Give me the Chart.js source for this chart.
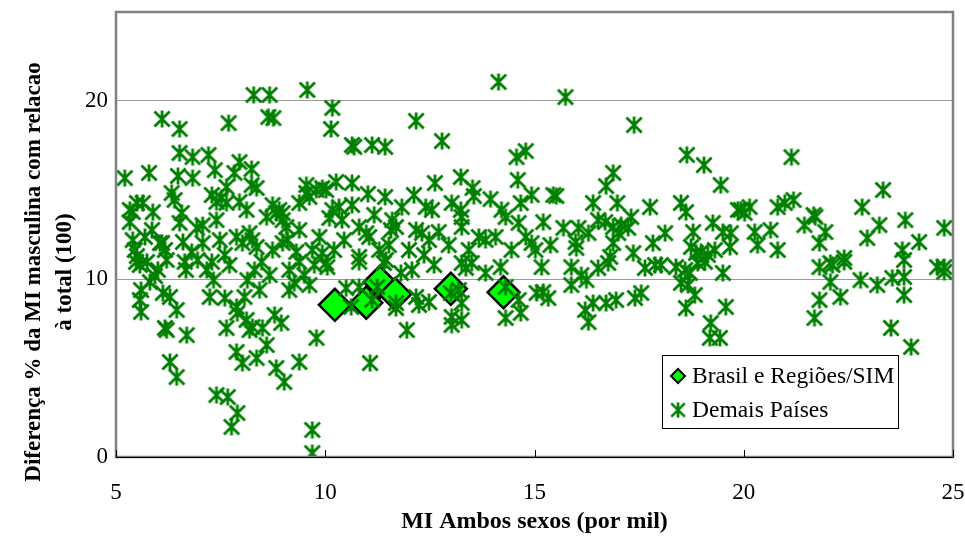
<!DOCTYPE html>
<html>
<head>
<meta charset="utf-8">
<script src="https://cdn.jsdelivr.net/npm/chart.js@4/dist/chart.umd.min.js"></script>
<style>
html,body{margin:0;padding:0;background:#fff;}
#wrap{width:965px;height:536px;position:relative;}
</style>
</head>
<body>
<div id="wrap"><canvas id="c" width="965" height="536"></canvas></div>
<script>
const xTitle = 'MI Ambos sexos (por mil)';
const yTitle = ['Diferença % da MI masculina com relacao', 'à total (100)'];
const legendLabels = ['Brasil e Regiões/SIM', 'Demais Países'];
const xTicks = [5, 10, 15, 20, 25];
const yTicks = [0, 10, 20];

const brasilX = [10.23, 10.98, 11.30, 11.67, 13.00, 14.26];
const brasilY = [8.55, 8.67, 9.83, 9.15, 9.45, 9.25];

const paisesX = [
5.21,5.40,5.33,5.50,5.64,5.33,5.40,5.45,5.50,5.48,5.57,5.74,5.60,5.57,5.60,5.81,5.93,6.05,6.00,5.86,5.79,5.69,5.88,
6.10,6.10,6.17,6.21,6.33,6.40,6.48,6.52,6.52,6.52,6.57,6.60,6.64,6.67,6.17,6.21,6.29,6.45,6.12,6.29,6.45,6.69,6.81,6.83,6.83,6.93,6.95,
7.07,7.07,7.21,7.29,7.36,7.40,7.40,7.48,7.52,7.24,7.60,7.64,7.64,7.64,7.40,7.67,7.69,7.76,7.83,7.88,7.88,7.90,7.88,7.90,7.95,7.95,7.17,7.29,7.71,7.60,7.33,
8.02,8.02,8.12,8.12,8.19,8.19,8.24,8.24,8.26,8.26,8.29,8.36,8.36,8.36,8.50,8.60,8.60,8.64,8.67,8.74,8.74,8.76,8.79,8.83,8.83,8.31,8.48,8.14,8.43,8.67,8.07,
8.90,8.98,8.95,8.98,8.98,9.02,9.07,9.31,9.38,9.38,9.55,9.55,9.57,9.62,9.69,9.69,9.69,9.79,9.79,9.14,9.26,9.38,9.50,9.62,9.14,9.10,9.38,9.74,9.86,
9.93,9.93,10.02,10.02,10.05,10.10,10.17,10.14,10.17,10.26,10.33,10.40,10.50,10.62,10.64,10.69,10.64,10.64,10.81,10.81,10.81,10.81,10.45,10.21,
10.98,11.02,11.05,11.07,11.12,11.12,11.24,11.40,11.43,11.43,11.45,11.57,11.60,11.69,11.69,11.69,11.29,11.17,11.52,
11.81,11.83,11.95,12.07,12.12,12.17,12.17,12.17,12.24,12.31,12.40,12.48,12.48,12.55,12.62,12.71,12.00,12.36,12.60,
12.79,13.00,13.02,13.02,13.02,13.19,13.24,13.24,13.26,13.26,13.26,13.26,13.26,13.36,13.50,13.52,13.55,13.67,12.95,13.43,
13.83,13.83,13.95,14.07,14.14,14.19,14.21,14.31,14.31,14.31,14.45,14.57,14.60,14.62,14.62,14.67,14.67,14.79,14.79,14.93,14.93,15.02,15.05,
15.17,15.21,15.21,15.33,15.38,15.45,15.52,15.69,15.74,15.88,15.88,15.98,16.00,16.05,16.12,16.24,16.29,16.21,16.29,16.40,16.40,
16.52,16.52,16.69,16.71,16.71,16.76,16.81,16.88,16.88,16.88,16.95,16.98,17.00,17.07,17.24,17.31,17.36,17.38,17.40,17.55,
17.64,17.76,17.83,17.88,18.02,18.12,18.38,18.50,18.50,18.60,18.62,18.62,18.64,18.67,18.71,18.74,18.79,18.83,18.86,
18.90,18.98,19.05,19.07,19.14,19.19,19.21,19.26,19.31,19.43,19.45,19.50,19.50,19.57,19.67,19.69,19.86,19.93,20.02,20.14,20.26,20.33,
20.64,20.81,20.81,20.98,21.14,21.19,21.45,21.67,21.71,21.69,21.81,21.81,21.81,21.95,22.07,22.07,22.12,22.31,22.40,22.40,
22.79,22.83,22.95,23.19,23.24,23.33,23.52,23.55,23.79,23.83,23.83,23.83,23.86,24.00,24.19,24.62,24.79,24.79,24.79
];
const paisesY = [
15.67,13.76,13.88,14.27,14.27,13.20,12.19,11.63,11.29,10.96,10.79,10.96,9.38,8.82,8.15,9.83,10.17,12.02,10.51,12.75,15.96,12.36,13.76,
18.99,12.02,11.63,11.07,14.83,14.44,15.79,17.08,18.43,13.15,13.71,12.08,10.96,10.51,7.25,7.13,5.34,4.49,9.21,8.99,8.26,6.85,11.52,16.85,15.67,12.87,11.07,
13.03,12.02,16.97,14.72,16.12,14.33,13.31,12.19,14.55,8.99,8.93,15.17,14.27,7.25,3.48,3.37,18.76,1.69,15.96,12.36,8.43,8.09,5.90,2.47,16.57,14.33,10.51,10.96,10.79,11.35,9.94,
12.02,5.28,13.88,7.70,12.58,7.13,16.18,15.28,12.19,7.30,20.34,15.11,11.80,5.56,7.25,13.48,6.29,19.10,20.34,14.16,11.63,19.04,7.98,13.71,5.00,10.51,10.96,9.94,9.38,10.22,8.99,
13.88,13.71,7.53,13.31,12.02,4.21,12.92,11.52,14.27,5.34,15.28,14.83,20.62,14.61,11.63,1.52,0.22,15.00,6.69,10.51,9.78,10.96,10.22,9.66,9.38,12.19,12.75,10.79,12.36,
15.11,11.46,15.00,10.90,10.67,13.43,19.61,18.43,13.88,15.45,14.04,13.31,9.49,8.43,17.53,17.42,15.39,14.16,12.92,11.24,10.96,9.55,12.19,11.63,
12.58,14.78,12.36,5.28,17.53,8.82,9.55,10.90,17.42,14.61,11.07,12.75,13.31,12.92,8.65,8.37,11.63,13.60,11.91,
10.34,14.04,7.13,10.51,14.72,18.88,12.75,8.99,8.54,12.58,14.04,12.19,8.71,13.88,15.39,12.64,11.63,11.35,10.79,
17.75,9.21,14.27,7.87,7.42,9.38,15.73,13.88,13.48,12.92,10.90,8.65,7.70,10.62,10.90,15.11,14.66,12.36,11.91,11.63,
12.19,10.34,14.49,12.36,21.07,10.67,13.88,13.48,9.55,7.81,11.63,16.85,15.56,13.15,8.82,14.27,8.09,17.19,12.36,14.72,12.02,11.63,9.21,
10.67,13.20,9.27,8.93,11.91,14.72,14.66,12.87,20.22,10.67,9.66,12.08,11.74,12.87,10.22,9.94,12.58,8.26,7.58,14.27,8.65,
13.31,10.62,13.20,15.22,8.65,10.90,11.24,15.96,12.92,12.02,8.82,14.27,12.58,13.03,12.87,13.48,11.46,18.65,8.93,9.21,
10.62,14.04,12.02,10.79,10.79,12.58,10.67,14.27,9.78,10.51,13.76,8.37,16.97,9.66,10.34,11.80,12.64,9.10,11.46,
10.90,11.52,16.40,10.96,11.35,6.69,7.53,13.15,11.63,6.69,15.28,12.64,10.34,8.43,11.80,12.58,13.88,13.88,13.71,14.04,12.64,11.91,
12.75,14.04,11.63,14.27,16.85,14.44,13.03,13.60,13.48,7.81,12.02,10.67,8.82,12.64,10.90,9.83,10.79,8.99,11.18,10.96,
9.94,14.04,12.30,9.66,13.03,15.00,7.25,10.06,11.63,11.07,10.11,9.10,13.31,6.18,12.08,10.67,12.87,10.67,10.40
];

const GREEN = '#008000';
const FONT = "'Liberation Serif', 'Times New Roman', serif";

function makeStar(size, lw) {
  const c = document.createElement('canvas');
  c.width = size; c.height = size;
  const g = c.getContext('2d');
  g.strokeStyle = GREEN; g.lineWidth = lw; g.lineCap = 'butt';
  const m = size / 2, a = 7.6, v = 8.6;
  g.beginPath();
  g.moveTo(m - a, m - a); g.lineTo(m + a, m + a);
  g.moveTo(m + a, m - a); g.lineTo(m - a, m + a);
  g.moveTo(m, m - v); g.lineTo(m, m + v);
  g.stroke();
  return c;
}
const star = makeStar(20, 2.8);

const decor = {
  id: 'decor',
  afterDraw(chart) {
    const {ctx, chartArea: ca, scales} = chart;
    ctx.save();
    ctx.strokeStyle = '#808080';
    ctx.lineWidth = 2.5;
    ctx.strokeRect(ca.left, ca.top, ca.right - ca.left, ca.bottom - ca.top);
    ctx.strokeStyle = '#000';
    ctx.lineWidth = 1;
    ctx.beginPath();
    ctx.moveTo(ca.left, ca.bottom + 0.5); ctx.lineTo(ca.right, ca.bottom + 0.5);
    xTicks.forEach(v => {
      const px = Math.round(scales.x.getPixelForValue(v)) + 0.5;
      ctx.moveTo(px, ca.bottom); ctx.lineTo(px, ca.bottom - 7);
    });
    ctx.stroke();
    // y axis title
    ctx.fillStyle = '#000';
    ctx.font = 'bold 23px ' + FONT;
    ctx.textAlign = 'center';
    ctx.textBaseline = 'middle';
    const cy = 272;
    [34, 65].forEach((x, i) => {
      ctx.save();
      ctx.translate(x, cy);
      ctx.rotate(-Math.PI / 2);
      ctx.fillText(yTitle[i], 0, 0);
      ctx.restore();
    });
    // legend
    const lx = ca.right - 291, ly = ca.bottom - 102, lw = 236, lh = 73;
    ctx.fillStyle = '#fff';
    ctx.fillRect(lx, ly, lw, lh);
    ctx.strokeStyle = '#000';
    ctx.lineWidth = 1;
    ctx.strokeRect(lx + 0.5, ly + 0.5, lw, lh);
    const r1 = ly + 21, r2 = ly + 55;
    ctx.beginPath();
    const dx = lx + 16, d = 7;
    ctx.moveTo(dx, r1 - d); ctx.lineTo(dx + d, r1); ctx.lineTo(dx, r1 + d); ctx.lineTo(dx - d, r1); ctx.closePath();
    ctx.fillStyle = '#00FF00'; ctx.fill();
    ctx.lineWidth = 2; ctx.strokeStyle = '#000'; ctx.stroke();
    ctx.drawImage(star, dx - 9, r2 - 9, 18, 18);
    ctx.fillStyle = '#000';
    ctx.font = '23.5px ' + FONT;
    ctx.textAlign = 'left';
    ctx.fillText(legendLabels[0], lx + 30, r1 + 1);
    ctx.fillText(legendLabels[1], lx + 30, r2 + 1);
    ctx.restore();
  }
};

new Chart(document.getElementById('c'), {
  type: 'scatter',
  data: {
    datasets: [
      {
        label: legendLabels[1],
        data: paisesX.map((x, i) => ({x: x, y: paisesY[i]})),
        pointStyle: star,
        pointRadius: 10,
        pointHoverRadius: 10,
        order: 0
      },
      {
        label: legendLabels[0],
        data: brasilX.map((x, i) => ({x: x, y: brasilY[i]})),
        pointStyle: 'rectRot',
        pointRadius: 16,
        pointHoverRadius: 16,
        backgroundColor: '#00FF00',
        borderColor: '#000',
        borderWidth: 2.5,
        order: 1
      }
    ]
  },
  options: {
    responsive: false,
    animation: false,
    events: [],
    layout: {autoPadding: false, padding: {left: 0, top: 12, right: 12, bottom: 0}},
    plugins: {legend: {display: false}, tooltip: {enabled: false}},
    scales: {
      x: {
        type: 'linear', min: 5, max: 25,
        afterBuildTicks: s => { s.ticks = xTicks.map(v => ({value: v})); },
        afterFit: s => { s.height = 79; s.paddingLeft = 0; s.paddingRight = 0; },
        grid: {display: false, drawTicks: false},
        border: {display: false},
        ticks: {color: '#000', padding: 22, font: {family: FONT, size: 23}, maxRotation: 0},
        title: {display: true, text: xTitle, color: '#000', font: {family: FONT, size: 24, weight: 'bold'}, padding: {top: 0, bottom: 0}}
      },
      y: {
        type: 'linear', min: 0, max: 25,
        afterBuildTicks: s => { s.ticks = yTicks.map(v => ({value: v})); },
        afterFit: s => { s.width = 116; s.paddingTop = 0; s.paddingBottom = 0; },
        grid: {
          drawTicks: false,
          color: c => (c.tick && c.tick.value > 0) ? '#9a9a9a' : 'rgba(0,0,0,0)',
          lineWidth: 1
        },
        border: {display: false},
        ticks: {color: '#000', padding: 8, font: {family: FONT, size: 23}}
      }
    }
  },
  plugins: [decor]
});
</script>
</body>
</html>
